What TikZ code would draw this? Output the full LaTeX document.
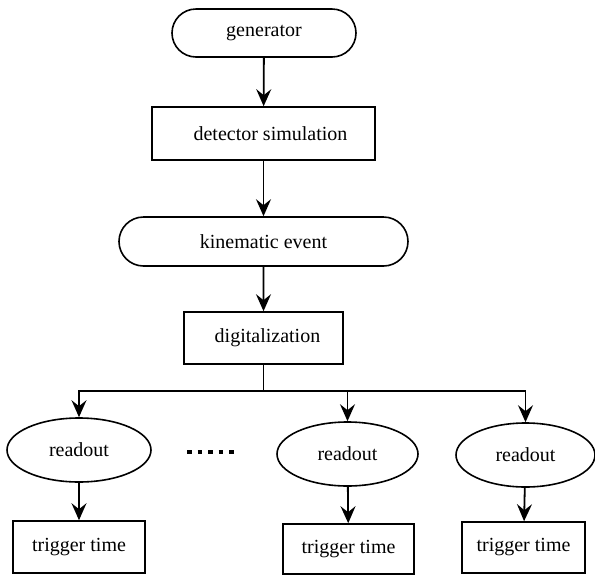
\documentclass[tikz,border=0pt]{standalone}
\usepackage{fontspec}
\setmainfont{Liberation Serif}
\usetikzlibrary{arrows.meta,shapes.misc,shapes.geometric}
\begin{document}
\begin{tikzpicture}[x=1pt,y=-1pt,
  every node/.style={font=\fontsize{20}{24}\selectfont, inner sep=0pt, line width=1.6pt, draw=black},
  stadium/.style={rounded rectangle},
  box/.style={rectangle},
  oval/.style={ellipse},
  arr/.style={line width=1.8pt, -{Stealth[length=17pt,width=15pt,inset=6pt]}},
  ln/.style={line width=1.8pt}]
\useasboundingbox (0,0) rectangle (595,574);
\node[stadium, minimum width=184pt, minimum height=48pt] (gen) at (264,33) {generator};
\node[box, minimum width=223pt, minimum height=53pt] (det) at (263.5,133.5) {\hspace*{14pt}detector simulation};
\node[stadium, minimum width=289pt, minimum height=49pt] (kin) at (263.5,241.5) {kinematic event};
\node[box, minimum width=159pt, minimum height=52pt] (dig) at (263.5,338) {\hspace*{8pt}digitalization};
\node[oval, minimum width=144pt, minimum height=64pt] (r1) at (79,450) {readout};
\node[oval, minimum width=141pt, minimum height=64pt] (r2) at (347.5,454) {readout};
\node[oval, minimum width=139pt, minimum height=64pt] (r3) at (525.5,455) {readout};
\node[box, minimum width=132pt, minimum height=52pt] (t1) at (79,547) {trigger time};
\node[box, minimum width=131pt, minimum height=50pt] (t2) at (348.5,549) {trigger time};
\node[box, minimum width=123pt, minimum height=51pt] (t3) at (523.5,547.5) {trigger time};
\coordinate (j) at (263.5,391);
\coordinate (d1) at (187,452);
\coordinate (d2) at (237,452);
\draw[arr] (gen) -- (det);
\draw[arr] (det) -- (kin);
\draw[arr] (kin) -- (dig);
\draw[ln] (dig) -- (j);
\draw[arr] (j) -| (r1.north);
\draw[arr] (j) -| (r2.north);
\draw[arr] (j) -| (r3.north);
\draw[arr] (r1) -- (t1);
\draw[arr] (r2) -- (t2);
\draw[arr] (r3) -- (t3);
\draw[line width=4.5pt, dash pattern=on 4.5pt off 6pt] (d1) -- (d2);
\end{tikzpicture}
\end{document}
